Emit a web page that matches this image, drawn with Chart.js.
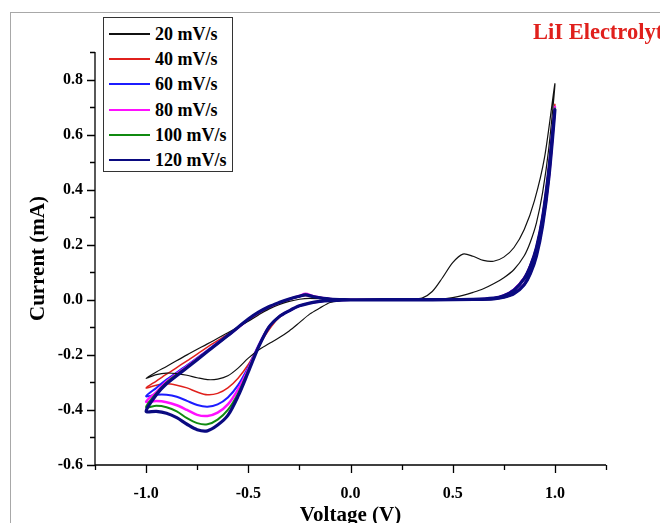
<!DOCTYPE html>
<html>
<head>
<meta charset="utf-8">
<script src="https://cdn.jsdelivr.net/npm/chart.js@4.4.1/dist/chart.umd.min.js"></script>
<style>
  body { margin: 0; background: #fff; }
  #wrap { position: relative; width: 660px; height: 523px; overflow: hidden; font-family: "Liberation Serif", "Times New Roman", serif; }
  #frame { position: absolute; left: 10px; top: 12px; width: 700px; height: 600px; border-left: 1.5px solid #a8a8a8; border-top: 1.5px solid #a8a8a8; }
  #grafico { position: absolute; left: 0; top: 0; }
  #leyenda { position: absolute; left: 103px; top: 17px; width: 128px; height: 153px; border: 1px solid #333; background: #fff; }
  .item { position: absolute; left: 0; height: 18px; line-height: 18px; font-size: 18px; font-weight: bold; }
  .item span.linea { position: absolute; left: 5px; top: 8px; width: 41px; height: 2px; }
  .item span.txt { position: absolute; left: 51px; top: 0; white-space: nowrap; }
  #titulo { position: absolute; left: 533px; top: 21px; font-size: 22.5px; line-height: 22px; font-weight: bold; color: #e0201c; white-space: nowrap; }
</style>
</head>
<body>
<div id="wrap">
  <div id="frame"></div>
  <canvas id="grafico" width="660" height="523"></canvas>
  <div id="leyenda"></div>
  <div id="titulo">LiI Electrolyte</div>
</div>
<script>
// Barrido 20 mV/s (trayectoria propia, tiene el pico de oxidaci칩n)
const voltage20 = [
  0, 0.1, 0.2, 0.3, 0.35, 0.4, 0.45, 0.5, 0.55, 0.6, 0.65, 0.7, 0.75, 0.8, 0.85, 0.9, 0.95, 1.0,
  0.97, 0.94, 0.91, 0.88, 0.85, 0.8, 0.75, 0.7, 0.65, 0.6, 0.55, 0.5, 0.45, 0.4, 0.2, 0,
  -0.05, -0.1, -0.15, -0.2, -0.25, -0.3, -0.35, -0.4, -0.45, -0.5, -0.55, -0.6, -0.65, -0.7, -0.75, -0.8, -0.85, -0.9, -0.95, -1.0,
  -0.95, -0.9, -0.8, -0.7, -0.6, -0.5, -0.45, -0.4, -0.35, -0.3, -0.25, -0.2, -0.1, 0
];
const current20 = [
  0, 0.001, 0.002, 0.003, 0.006, 0.03, 0.08, 0.135, 0.166, 0.158, 0.143, 0.14, 0.155, 0.19, 0.255, 0.36, 0.52, 0.785,
  0.55, 0.39, 0.28, 0.21, 0.16, 0.11, 0.08, 0.058, 0.04, 0.027, 0.016, 0.008, 0.003, 0.001, 0, 0,
  -0.003, -0.01, -0.03, -0.052, -0.083, -0.113, -0.138, -0.16, -0.182, -0.212, -0.248, -0.276, -0.288, -0.29, -0.283, -0.274, -0.268, -0.266, -0.272, -0.285,
  -0.262, -0.242, -0.2, -0.16, -0.12, -0.078, -0.055, -0.034, -0.018, -0.006, 0.002, 0.005, 0.002, 0
];

// Trayectoria com칰n para 40-120 mV/s
const voltageScan = [
  0, 0.2, 0.4, 0.6, 0.7, 0.75, 0.8, 0.85, 0.88, 0.91, 0.94, 0.97, 1.0,
  0.97, 0.94, 0.91, 0.88, 0.85, 0.8, 0.75, 0.7, 0.6, 0.4, 0.2, 0,
  -0.1, -0.15, -0.2, -0.25, -0.3, -0.35, -0.4, -0.45, -0.5, -0.55, -0.6, -0.65, -0.7, -0.75, -0.8, -0.85, -0.9, -0.95, -1.0,
  -0.95, -0.9, -0.8, -0.7, -0.6, -0.5, -0.45, -0.4, -0.35, -0.3, -0.25, -0.22, -0.18, -0.1, 0
];
const current40 = [
  0, 0, 0, 0.001, 0.004, 0.01, 0.024, 0.058, 0.1, 0.17, 0.28, 0.45, 0.71,
  0.48, 0.31, 0.195, 0.128, 0.082, 0.039, 0.016, 0.006, 0.002, 0.001, 0.001, 0,
  -0.003, -0.006, -0.012, -0.022, -0.04, -0.065, -0.11, -0.17, -0.235, -0.285, -0.32, -0.34, -0.345, -0.335, -0.32, -0.31, -0.305, -0.31, -0.32,
  -0.295, -0.27, -0.222, -0.172, -0.125, -0.075, -0.05, -0.029, -0.013, 0.001, 0.011, 0.016, 0.01, 0.003, 0
];
const current60 = [
  0, 0, 0, 0.001, 0.004, 0.01, 0.023, 0.056, 0.097, 0.165, 0.275, 0.44, 0.70,
  0.47, 0.3, 0.19, 0.125, 0.08, 0.038, 0.016, 0.006, 0.002, 0.001, 0.001, 0,
  -0.003, -0.006, -0.012, -0.022, -0.04, -0.062, -0.1, -0.165, -0.245, -0.31, -0.355, -0.38, -0.388, -0.382, -0.367, -0.352, -0.345, -0.345, -0.35,
  -0.32, -0.29, -0.238, -0.183, -0.128, -0.072, -0.047, -0.027, -0.012, 0.002, 0.012, 0.018, 0.011, 0.003, 0
];
const current80 = [
  0, 0, 0, 0.001, 0.004, 0.01, 0.023, 0.056, 0.097, 0.165, 0.275, 0.44, 0.70,
  0.47, 0.3, 0.19, 0.124, 0.079, 0.037, 0.016, 0.006, 0.002, 0.001, 0.001, 0,
  -0.003, -0.006, -0.012, -0.022, -0.04, -0.062, -0.1, -0.168, -0.252, -0.325, -0.38, -0.41, -0.422, -0.418, -0.4, -0.383, -0.372, -0.368, -0.37,
  -0.335, -0.297, -0.242, -0.186, -0.13, -0.072, -0.047, -0.027, -0.012, 0.002, 0.014, 0.022, 0.013, 0.003, 0
];
const current100 = [
  0, 0, 0, 0.001, 0.003, 0.009, 0.022, 0.055, 0.096, 0.162, 0.272, 0.44, 0.695,
  0.47, 0.3, 0.19, 0.123, 0.078, 0.036, 0.015, 0.006, 0.002, 0.001, 0.001, 0,
  -0.003, -0.006, -0.012, -0.022, -0.04, -0.062, -0.1, -0.17, -0.256, -0.34, -0.4, -0.435, -0.452, -0.448, -0.43, -0.405, -0.39, -0.385, -0.39,
  -0.34, -0.3, -0.244, -0.187, -0.13, -0.071, -0.046, -0.026, -0.011, 0.002, 0.013, 0.019, 0.012, 0.003, 0
];
const current120 = [
  0, 0, 0, 0.001, 0.003, 0.009, 0.022, 0.055, 0.095, 0.16, 0.27, 0.44, 0.69,
  0.47, 0.3, 0.19, 0.122, 0.077, 0.035, 0.015, 0.006, 0.002, 0.001, 0.001, 0,
  -0.003, -0.006, -0.012, -0.022, -0.04, -0.062, -0.1, -0.172, -0.262, -0.35, -0.42, -0.455, -0.476, -0.472, -0.452, -0.428, -0.412, -0.405, -0.405,
  -0.345, -0.305, -0.247, -0.188, -0.13, -0.07, -0.045, -0.025, -0.01, 0.003, 0.013, 0.018, 0.011, 0.003, 0
];

const seriesLabels = ["20 mV/s", "40 mV/s", "60 mV/s", "80 mV/s", "100 mV/s", "120 mV/s"];
const seriesColors = ["#111111", "#e0201c", "#1c1cff", "#ff10ff", "#108a10", "#0a0a80"];
const seriesWidths = [1.2, 1.5, 2, 2.5, 2, 3.2];
const seriesOrder = [1, 5, 4, 3, 2, 0];

const xTicks = [-1.25, -1.0, -0.75, -0.5, -0.25, 0, 0.25, 0.5, 0.75, 1.0, 1.25];
const yTicks = [-0.6, -0.5, -0.4, -0.3, -0.2, -0.1, 0, 0.1, 0.2, 0.3, 0.4, 0.5, 0.6, 0.7, 0.8, 0.9];

const voltages = [voltage20, voltageScan, voltageScan, voltageScan, voltageScan, voltageScan];
const currents = [current20, current40, current60, current80, current100, current120];

const datasets = seriesLabels.map((label, i) => ({
  label: label,
  data: voltages[i].map((v, k) => ({ x: v, y: currents[i][k] })),
  showLine: true,
  borderColor: seriesColors[i],
  backgroundColor: seriesColors[i],
  borderWidth: seriesWidths[i],
  pointRadius: 0,
  tension: 0.3,
  borderJoinStyle: "round",
  order: seriesOrder[i]
}));

// Leyenda en HTML
const leyenda = document.getElementById("leyenda");
seriesLabels.forEach((label, i) => {
  const item = document.createElement("div");
  item.className = "item";
  item.style.top = (7 + 25.2 * i) + "px";
  item.innerHTML = `<span class="linea" style="background:${seriesColors[i]}"></span><span class="txt">${label}</span>`;
  leyenda.appendChild(item);
});

const fuente = "'Liberation Serif', 'Times New Roman', serif";
const esMayor = (v, paso) => Math.abs(v / paso - Math.round(v / paso)) < 1e-6;

// Marcas de los ejes (mayores y menores)
const marcasEjes = {
  id: "marcasEjes",
  afterDraw(chart) {
    const { ctx, chartArea, scales: { x, y } } = chart;
    ctx.save();
    ctx.strokeStyle = "#000";
    ctx.lineWidth = 1.3;
    ctx.beginPath();
    ctx.moveTo(chartArea.left, chartArea.top);
    ctx.lineTo(chartArea.left, chartArea.bottom);
    ctx.lineTo(chartArea.right, chartArea.bottom);
    xTicks.forEach(v => {
      const px = Math.round(x.getPixelForValue(v)) + 0.5;
      ctx.moveTo(px, chartArea.bottom);
      ctx.lineTo(px, chartArea.bottom + (esMayor(v, 0.5) ? 8 : 5));
    });
    yTicks.forEach(v => {
      const py = Math.round(y.getPixelForValue(v)) + 0.5;
      ctx.moveTo(chartArea.left, py);
      ctx.lineTo(chartArea.left - (esMayor(v, 0.2) ? 8 : 5), py);
    });
    ctx.stroke();
    ctx.restore();
  }
};

const ctx = document.getElementById("grafico").getContext("2d");
new Chart(ctx, {
  type: "scatter",
  data: { datasets: datasets },
  options: {
    responsive: false,
    animation: false,
    devicePixelRatio: 1,
    layout: { padding: { top: 52, right: 54, bottom: 0, left: 0 } },
    plugins: { legend: { display: false }, tooltip: { enabled: false } },
    scales: {
      x: {
        type: "linear",
        min: -1.25,
        max: 1.25,
        grid: { display: false, drawTicks: false },
        border: { display: false },
        afterBuildTicks: axis => { axis.ticks = xTicks.map(v => ({ value: v })); },
        afterFit: axis => { axis.height = 58; },
        ticks: {
          autoSkip: false,
          maxRotation: 0,
          padding: 19,
          color: "#000",
          font: { family: fuente, size: 16, weight: "bold" },
          callback: v => esMayor(v, 0.5) ? v.toFixed(1) : ""
        },
        title: {
          display: true,
          text: "Voltage (V)",
          color: "#000",
          font: { family: fuente, size: 21, weight: "bold" },
          padding: { top: 0, bottom: -5 }
        }
      },
      y: {
        type: "linear",
        min: -0.6,
        max: 0.9,
        grid: { display: false, drawTicks: false },
        border: { display: false },
        afterBuildTicks: axis => { axis.ticks = yTicks.map(v => ({ value: v })); },
        afterFit: axis => { axis.width = 95; },
        ticks: {
          autoSkip: false,
          padding: 12,
          color: "#000",
          font: { family: fuente, size: 16, weight: "bold" },
          callback: v => esMayor(v, 0.2) ? v.toFixed(1) : ""
        },
        title: {
          display: true,
          text: "Current (mA)",
          color: "#000",
          font: { family: fuente, size: 21, weight: "bold" },
          padding: { top: 26, bottom: 0 }
        }
      }
    }
  },
  plugins: [marcasEjes]
});
</script>
</body>
</html>
